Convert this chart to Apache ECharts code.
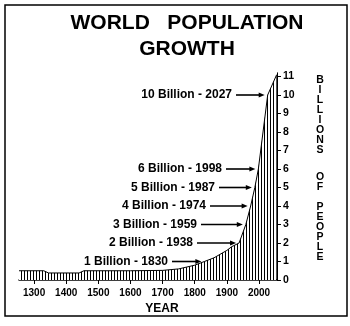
<!DOCTYPE html>
<html>
<head>
<meta charset="utf-8">
<script src="https://cdn.jsdelivr.net/npm/echarts@6/dist/echarts.min.js"></script>
<style>
  html, body { margin: 0; padding: 0; background: #fff; }
  #chart { width: 350px; height: 326px; }
</style>
</head>
<body>
<div id="chart"></div>
<script>
// World population, billions of people, by year
const popYears    = [1253, 1330, 1345, 1440, 1455, 1600, 1700, 1750, 1800, 1830, 1860, 1900, 1915, 1938, 1959, 1974, 1987, 1998, 2027, 2055];
const popBillions = [0.5,  0.5,  0.38, 0.38, 0.5,  0.5,  0.52, 0.6,  0.8,  1,    1.2,  1.6,  1.8,  2,    3,    4,    5,    6,    10,   11.1];

// Milestones called out with arrows
const milestoneYears    = [1830, 1938, 1959, 1974, 1987, 1998, 2027];
const milestoneBillions = [1, 2, 3, 4, 5, 6, 10];

// Axis ticks
const yearTicks    = [1300, 1400, 1500, 1600, 1700, 1800, 1900, 2000];
const billionTicks = [0, 1, 2, 3, 4, 5, 6, 7, 8, 9, 10, 11];

const FONT = '"Liberation Sans", Arial, Helvetica, sans-serif';

// vertical hatching used to fill the area under the curve
function hatchPattern() {
  const c = document.createElement('canvas');
  c.width = 3; c.height = 4;
  const g = c.getContext('2d');
  g.fillStyle = '#fff';
  g.fillRect(0, 0, 3, 4);
  g.fillStyle = '#000';
  g.fillRect(0, 0, 1, 4);
  return c;
}

const chart = echarts.init(document.getElementById('chart'), null, { renderer: 'canvas' });

const seriesData = popYears.map((y, i) => [y, popBillions[i]]);

chart.setOption({
  animation: false,
  backgroundColor: '#fff',
  grid: { left: 19, right: 73, top: 72.8, bottom: 46, containLabel: false },
  xAxis: {
    type: 'value',
    min: 1253,
    max: 2056,
    axisLine: { show: true, lineStyle: { color: '#000', width: 1.5 } },
    axisTick: { show: true, customValues: yearTicks, length: 4, lineStyle: { color: '#000', width: 1 } },
    axisLabel: {
      customValues: yearTicks,
      formatter: v => String(v),
      color: '#000', fontFamily: FONT, fontWeight: 'bold', fontSize: 10, margin: 8
    },
    splitLine: { show: false }
  },
  yAxis: {
    type: 'value',
    position: 'right',
    min: 0,
    max: 11.2,
    axisLine: { show: true, lineStyle: { color: '#000', width: 1 } },
    axisTick: { show: true, customValues: billionTicks, length: 4, lineStyle: { color: '#000' } },
    axisLabel: {
      customValues: billionTicks,
      formatter: v => String(v),
      color: '#000', fontFamily: FONT, fontWeight: 'bold', fontSize: 10.5, margin: 6
    },
    splitLine: { show: false }
  },
  series: [{
    type: 'line',
    data: seriesData,
    symbol: 'none',
    lineStyle: { color: '#000', width: 1 },
    areaStyle: { color: { image: hatchPattern(), repeat: 'repeat' }, opacity: 1 }
  }]
});

// text labels whose right edge sits at these x positions
const labelRight = [168, 193, 197, 206, 215, 222, 232];

const graphics = [
  // frame
  { type: 'rect', shape: { x: 5, y: 5, width: 342, height: 311 },
    style: { fill: 'none', stroke: '#000', lineWidth: 1.5 } },
  // title
  { type: 'text', x: 187, y: 13,
    style: { text: 'WORLD   POPULATION', align: 'center', fill: '#000',
             font: 'bold 21px ' + FONT } },
  { type: 'text', x: 187, y: 39,
    style: { text: 'GROWTH', align: 'center', fill: '#000',
             font: 'bold 21px ' + FONT } },
  // x axis name
  { type: 'text', x: 162, y: 303,
    style: { text: 'YEAR', align: 'center', fill: '#000', font: 'bold 12px ' + FONT } }
];

// vertical axis title, one letter per line
const axisWords = [['BILLIONS', 80], ['OF', 177], ['PEOPLE', 207]];
axisWords.forEach(([word, top]) => {
  word.split('').forEach((ch, i) => {
    graphics.push({ type: 'text', x: 320, y: top + i * 10,
      style: { text: ch, align: 'center', verticalAlign: 'middle', fill: '#000',
               font: 'bold 10.5px ' + FONT } });
  });
});

// milestone labels with arrows pointing at the curve
milestoneYears.forEach((yr, i) => {
  const v = milestoneBillions[i];
  const p = chart.convertToPixel({ seriesIndex: 0 }, [yr, v]);
  const tip = p[0] - 3;
  const py = p[1];
  const right = labelRight[i];
  graphics.push({ type: 'text', x: right, y: py,
    style: { text: v + ' Billion - ' + yr, align: 'right', verticalAlign: 'middle',
             fill: '#000', font: 'bold 12px ' + FONT } });
  graphics.push({ type: 'line', shape: { x1: right + 4, y1: py, x2: tip - 5, y2: py },
    style: { stroke: '#000', lineWidth: 1.6 } });
  graphics.push({ type: 'polygon', shape: { points: [[tip, py], [tip - 6, py - 2.5], [tip - 6, py + 2.5]] },
    style: { fill: '#000' } });
});

chart.setOption({ graphic: graphics });
</script>
</body>
</html>
